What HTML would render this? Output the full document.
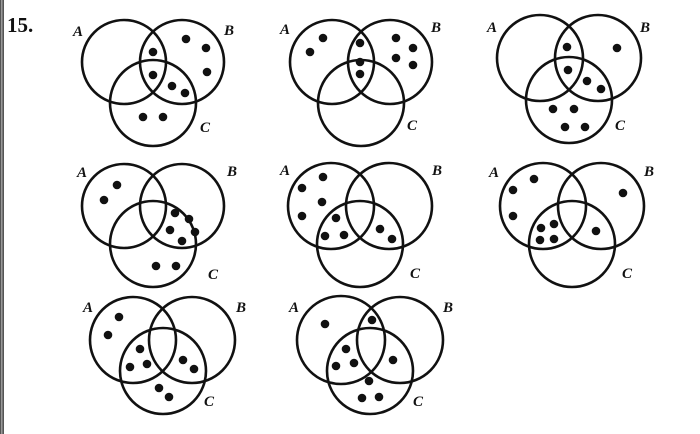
<!DOCTYPE html>
<html><head><meta charset="utf-8"><style>
html,body{margin:0;padding:0;background:#fff;}
svg{display:block;}
text{font-family:"Liberation Serif",serif;font-style:italic;font-weight:bold;font-size:15px;fill:#111;}
</style></head><body>
<svg width="700" height="434" viewBox="0 0 700 434" xmlns="http://www.w3.org/2000/svg">
<rect x="0" y="0" width="4" height="434" fill="#555"/>
<rect x="1" y="0" width="1.5" height="434" fill="#999"/>
<text x="7" y="32" style="font-style:normal;font-size:21px;font-weight:bold">15.</text>
<g fill="none" stroke="#111" stroke-width="2.6">
<circle cx="124" cy="62" r="42"/><circle cx="182" cy="62" r="42"/><circle cx="153" cy="103" r="43"/>
<circle cx="332" cy="62" r="42"/><circle cx="390" cy="62" r="42"/><circle cx="361" cy="103" r="43"/>
<circle cx="540" cy="58" r="43"/><circle cx="598" cy="58" r="43"/><circle cx="569" cy="100" r="43"/>
<circle cx="124" cy="206" r="42"/><circle cx="182" cy="206" r="42"/><circle cx="153" cy="244" r="43"/>
<circle cx="331" cy="206" r="43"/><circle cx="389" cy="206" r="43"/><circle cx="360" cy="244" r="43"/>
<circle cx="543" cy="206" r="43"/><circle cx="601" cy="206" r="43"/><circle cx="572" cy="244" r="43"/>
<circle cx="133" cy="340" r="43"/><circle cx="192" cy="340" r="43"/><circle cx="163" cy="371" r="43"/>
<circle cx="341" cy="340" r="44"/><circle cx="400" cy="340" r="43"/><circle cx="370" cy="371" r="43"/>
</g>
<g fill="#111">
<circle cx="153" cy="52" r="4.3"/><circle cx="153" cy="75" r="4.3"/><circle cx="172" cy="86" r="4.3"/><circle cx="185" cy="93" r="4.3"/><circle cx="186" cy="39" r="4.3"/><circle cx="206" cy="48" r="4.3"/><circle cx="207" cy="72" r="4.3"/><circle cx="143" cy="117" r="4.3"/><circle cx="163" cy="117" r="4.3"/>
<circle cx="323" cy="38" r="4.3"/><circle cx="310" cy="52" r="4.3"/><circle cx="360" cy="43" r="4.3"/><circle cx="360" cy="62" r="4.3"/><circle cx="360" cy="74" r="4.3"/><circle cx="396" cy="38" r="4.3"/><circle cx="413" cy="48" r="4.3"/><circle cx="396" cy="58" r="4.3"/><circle cx="413" cy="65" r="4.3"/>
<circle cx="567" cy="47" r="4.3"/><circle cx="568" cy="70" r="4.3"/><circle cx="587" cy="81" r="4.3"/><circle cx="601" cy="89" r="4.3"/><circle cx="617" cy="48" r="4.3"/><circle cx="553" cy="109" r="4.3"/><circle cx="574" cy="109" r="4.3"/><circle cx="565" cy="127" r="4.3"/><circle cx="585" cy="127" r="4.3"/>
<circle cx="117" cy="185" r="4.3"/><circle cx="104" cy="200" r="4.3"/><circle cx="175" cy="213" r="4.3"/><circle cx="189" cy="219" r="4.3"/><circle cx="170" cy="230" r="4.3"/><circle cx="195" cy="232" r="4.3"/><circle cx="182" cy="241" r="4.3"/><circle cx="156" cy="266" r="4.3"/><circle cx="176" cy="266" r="4.3"/>
<circle cx="323" cy="177" r="4.3"/><circle cx="302" cy="188" r="4.3"/><circle cx="322" cy="202" r="4.3"/><circle cx="302" cy="216" r="4.3"/><circle cx="336" cy="218" r="4.3"/><circle cx="325" cy="236" r="4.3"/><circle cx="344" cy="235" r="4.3"/><circle cx="380" cy="229" r="4.3"/><circle cx="392" cy="239" r="4.3"/>
<circle cx="534" cy="179" r="4.3"/><circle cx="513" cy="190" r="4.3"/><circle cx="513" cy="216" r="4.3"/><circle cx="623" cy="193" r="4.3"/><circle cx="541" cy="228" r="4.3"/><circle cx="554" cy="224" r="4.3"/><circle cx="540" cy="240" r="4.3"/><circle cx="554" cy="239" r="4.3"/><circle cx="596" cy="231" r="4.3"/>
<circle cx="119" cy="317" r="4.3"/><circle cx="108" cy="335" r="4.3"/><circle cx="140" cy="349" r="4.3"/><circle cx="130" cy="367" r="4.3"/><circle cx="147" cy="364" r="4.3"/><circle cx="183" cy="360" r="4.3"/><circle cx="194" cy="369" r="4.3"/><circle cx="159" cy="388" r="4.3"/><circle cx="169" cy="397" r="4.3"/>
<circle cx="325" cy="324" r="4.3"/><circle cx="372" cy="320" r="4.3"/><circle cx="346" cy="349" r="4.3"/><circle cx="336" cy="366" r="4.3"/><circle cx="354" cy="363" r="4.3"/><circle cx="393" cy="360" r="4.3"/><circle cx="369" cy="381" r="4.3"/><circle cx="362" cy="398" r="4.3"/><circle cx="379" cy="397" r="4.3"/>
</g>
<text x="73" y="36">A</text><text x="224" y="35">B</text><text x="200" y="132">C</text>
<text x="280" y="34">A</text><text x="431" y="32">B</text><text x="407" y="130">C</text>
<text x="487" y="32">A</text><text x="640" y="32">B</text><text x="615" y="130">C</text>
<text x="77" y="177">A</text><text x="227" y="176">B</text><text x="208" y="279">C</text>
<text x="280" y="175">A</text><text x="432" y="175">B</text><text x="410" y="278">C</text>
<text x="489" y="177">A</text><text x="644" y="176">B</text><text x="622" y="278">C</text>
<text x="83" y="312">A</text><text x="236" y="312">B</text><text x="204" y="406">C</text>
<text x="289" y="312">A</text><text x="443" y="312">B</text><text x="413" y="406">C</text>
</svg>
</body></html>
